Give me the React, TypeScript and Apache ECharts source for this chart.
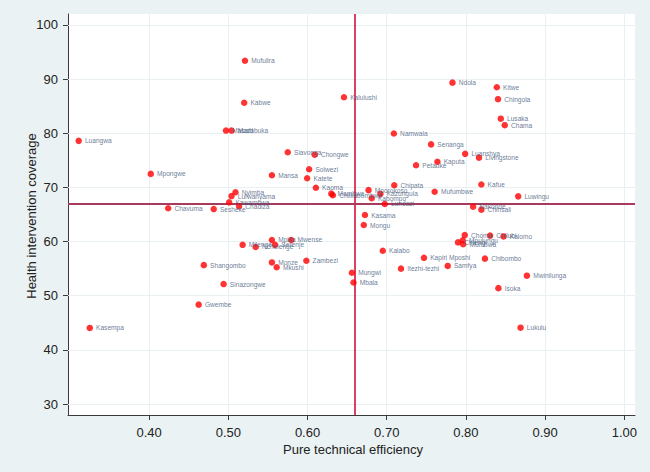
import React, { useEffect, useRef } from "react";
import * as echarts from "echarts";

const districts = [
  "Mufulira", "Kabwe", "Masaiti", "Mazabuka", "Luangwa", "Kalulushi", "Ndola", "Kitwe", "Chingola", "Lusaka",
  "Chama", "Namwala", "Senanga", "Luanshya", "Livingstone", "Kaputa", "Petauke", "Siavonga", "Chongwe", "Solwezi",
  "Mansa", "Katete", "Kaoma", "Chipata", "Mufumbwe", "Kafue", "Luwingu", "Mpongwe", "Nyimba", "Lufwanyama",
  "Kawambwa", "Chadiza", "Chavuma", "Sesheke", "Mambwe", "Chililabombwe", "Mporokoso", "Kazungula", "Kabompo", "Lundazi",
  "Nakonde", "Chinsali", "Kasama", "Mongu", "Choma", "Chilubi", "Kalomo", "Chiengi", "Mpulungu", "Mumbwa",
  "Mpika", "Serenje", "Mwense", "Milenge", "Nchelenge", "Kalabo", "Kapiri Mposhi", "Itezhi-tezhi", "Samfya", "Chibombo",
  "Monze", "Mkushi", "Zambezi", "Shangombo", "Mungwi", "Mbala", "Mwinilunga", "Sinazongwe", "Isoka", "Gwembe",
  "Kasempa", "Lukulu",
];

const efficiency = [
  0.521, 0.52, 0.497, 0.504, 0.311, 0.646, 0.783, 0.839, 0.8405, 0.844,
  0.849, 0.709, 0.756, 0.799, 0.8165, 0.764, 0.737, 0.575, 0.609, 0.602,
  0.555, 0.5995, 0.6105, 0.7095, 0.7605, 0.8195, 0.866, 0.402, 0.509, 0.504,
  0.501, 0.5135, 0.424, 0.4815, 0.63, 0.632, 0.677, 0.692, 0.681, 0.6975,
  0.809, 0.8195, 0.6725, 0.671, 0.7985, 0.8305, 0.8475, 0.79, 0.796, 0.7965,
  0.555, 0.559, 0.5795, 0.518, 0.5345, 0.695, 0.747, 0.718, 0.777, 0.824,
  0.555, 0.561, 0.5985, 0.469, 0.656, 0.658, 0.877, 0.494, 0.841, 0.4625,
  0.325, 0.869,
];

const coverage = [
  93.4, 85.65, 80.5, 80.5, 78.6, 86.65, 89.35, 88.5, 86.3, 82.7,
  81.5, 79.95, 77.95, 76.2, 75.5, 74.75, 74.1, 76.5, 76.05, 73.35,
  72.25, 71.7, 69.95, 70.4, 69.2, 70.55, 68.35, 72.5, 69.1, 68.4,
  67.25, 66.55, 66.15, 66.0, 68.85, 68.55, 69.5, 68.8, 68.0, 66.95,
  66.45, 65.9, 64.9, 63.05, 61.2, 61.1, 60.95, 59.85, 60.25, 59.5,
  60.3, 59.4, 60.3, 59.4, 59.0, 58.3, 57.0, 55.0, 55.5, 56.85,
  56.15, 55.25, 56.45, 55.65, 54.25, 52.45, 53.7, 52.15, 51.4, 48.35,
  44.05, 44.1,
];

const xTicks = [0.4, 0.5, 0.6, 0.7, 0.8, 0.9, 1.0];
const yTicks = [30, 40, 50, 60, 70, 80, 90, 100];
const meanEfficiency = 0.659;
const meanCoverage = 67.0;
const xTitle = "Pure technical efficiency";
const yTitle = "Health intervention coverage";

export default function App() {
  const ref = useRef<HTMLDivElement>(null);
  useEffect(() => {
    if (!ref.current) return;
    const chart = echarts.init(ref.current, null, { renderer: "svg" });
    const points = districts.map((name, i) => ({ name, value: [efficiency[i], coverage[i]] }));
    const font = "'Liberation Sans', Arial, sans-serif";
    const gridStyle = { color: "#e8f0f2", width: 1, type: "solid" };
    chart.setOption({
      animation: false,
      backgroundColor: "#EAF2F3",
      textStyle: { fontFamily: font },
      grid: {
        left: 68, right: 15, top: 14, bottom: 57,
        show: true, backgroundColor: "#ffffff", borderWidth: 0,
      },
      graphic: [
        {
          type: "text", x: 353, y: 449, z: 10,
          style: { text: xTitle, fontSize: 13, fill: "#222", fontFamily: font, align: "center", verticalAlign: "middle" },
        },
        {
          type: "text", x: 31, y: 216, rotation: Math.PI / 2, z: 10,
          style: { text: yTitle, fontSize: 13, fill: "#222", fontFamily: font, align: "center", verticalAlign: "middle" },
        },
      ],
      xAxis: {
        type: "value",
        min: 0.2975,
        max: 1.0135,
        axisLine: { show: true, onZero: false, lineStyle: { color: "#3a3a3a", width: 1 } },
        axisTick: { show: true, length: 5, customValues: xTicks, lineStyle: { color: "#3a3a3a" } },
        axisLabel: {
          customValues: xTicks, fontSize: 13, color: "#222", margin: 11, fontFamily: font,
          formatter: (v: number) => v.toFixed(2),
        },
        splitLine: { show: false },
      },
      yAxis: {
        type: "value",
        min: 27.97,
        max: 102.03,
        axisLine: { show: true, onZero: false, lineStyle: { color: "#3a3a3a", width: 1 } },
        axisTick: { show: true, length: 5, customValues: yTicks, lineStyle: { color: "#3a3a3a" } },
        axisLabel: { customValues: yTicks, fontSize: 13, color: "#222", margin: 10, fontFamily: font },
        splitLine: { show: false },
      },
      series: [
        {
          type: "scatter",
          data: [],
          z: 1,
          silent: true,
          markLine: {
            z: 1,
            silent: true,
            symbol: "none",
            label: { show: false },
            lineStyle: gridStyle,
            data: [
              ...xTicks.map((v) => ({ xAxis: v })),
              ...yTicks.map((v) => ({ yAxis: v })),
            ],
          },
        },
        {
          type: "scatter",
          data: [],
          z: 2,
          silent: true,
          markLine: {
            z: 2,
            silent: true,
            symbol: "none",
            label: { show: false },
            data: [
              { xAxis: meanEfficiency, lineStyle: { color: "#d0022c", width: 1.5, type: "solid" } },
              { yAxis: meanCoverage, lineStyle: { color: "#a83a5e", width: 1.8, type: "solid" } },
            ],
          },
        },
        {
          type: "scatter",
          z: 3,
          symbolSize: 6.5,
          itemStyle: { color: "#ff0000" },
          data: points,
          label: {
            show: true,
            position: "right",
            distance: 3,
            formatter: "{b}",
            fontSize: 6.6,
            color: "#44587a",
            fontFamily: font,
          },
        },
      ],
    });
    return () => chart.dispose();
  }, []);
  return <div ref={ref} style={{ position: "absolute", left: 0, top: 0, width: 650, height: 472 }} />;
}
